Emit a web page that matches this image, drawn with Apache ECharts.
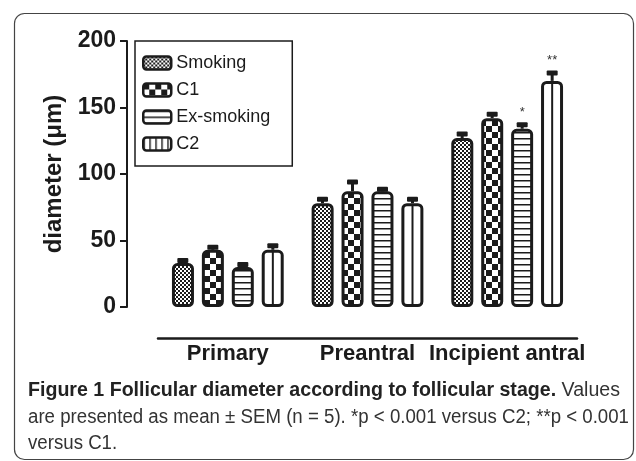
<!DOCTYPE html>
<html>
<head>
<meta charset="utf-8">
<script src="https://cdn.jsdelivr.net/npm/echarts@6/dist/echarts.min.js"></script>
<style>
  html, body { margin: 0; padding: 0; background: #fff; }
  #chart { width: 636px; height: 461px; }
</style>
</head>
<body>
<div id="chart"></div>
<script>
// values (diameter in µm)
const categories = ['Primary', 'Preantral', 'Incipient antral'];
const seriesNames = ['Smoking', 'C1', 'Ex-smoking', 'C2'];
const smoking = [33, 78, 127];
const c1 = [43, 87, 142];
const exSmoking = [30, 87, 134];
const c2 = [43, 78, 170];
const smokingSem = [2, 3, 3];
const c1Sem = [2, 7, 3];
const exSmokingSem = [2, 1.5, 3];
const c2Sem = [3, 3, 6];
const yTicks = [0, 50, 100, 150, 200];
// significance marks: [series index, category index, text]
const starMarks = [[2, 2, '*'], [3, 2, '**']];

const captionBold = 'Figure 1 Follicular diameter according to follicular stage.';
const captionLines = [
  ' Values',
  'are presented as mean ± SEM (n = 5). *p < 0.001 versus C2; **p < 0.001',
  'versus C1.'
];

const ink = '#1b1b1b';
const sans = 'Liberation Sans';

function makePattern(w, h, draw) {
  const c = document.createElement('canvas');
  c.width = w;
  c.height = h;
  const ctx = c.getContext('2d');
  ctx.fillStyle = '#fff';
  ctx.fillRect(0, 0, w, h);
  ctx.fillStyle = ink;
  draw(ctx);
  return { image: c, repeat: 'repeat' };
}

const fineChecker = makePattern(4, 4, (ctx) => {
  ctx.fillRect(0, 0, 2, 2);
  ctx.fillRect(2, 2, 2, 2);
});
const coarseChecker = makePattern(12, 12, (ctx) => {
  ctx.fillRect(0, 0, 6, 6);
  ctx.fillRect(6, 6, 6, 6);
});
const stripes = makePattern(6, 6, (ctx) => {
  ctx.fillRect(0, 0, 6, 1.5);
});
const columns = makePattern(6, 6, (ctx) => {
  ctx.fillRect(0, 0, 1.5, 6);
});
const plain = '#fff';

const fills = [fineChecker, coarseChecker, stripes, plain];
const legendFills = [fineChecker, coarseChecker, stripes, columns];
const allValues = [smoking, c1, exSmoking, c2];
const allSem = [smokingSem, c1Sem, exSmokingSem, c2Sem];

const errorData = [];
allValues.forEach((vals, s) => {
  vals.forEach((v, i) => errorData.push([i, s, v, allSem[s][i]]));
});

function markFor(s, i) {
  const m = starMarks.find((d) => d[0] === s && d[1] === i);
  return m ? m[2] : '';
}

const pitch = 30;

function renderError(params, api) {
  const cat = api.value(0);
  const s = api.value(1);
  const val = api.value(2);
  const err = api.value(3);
  const base = api.coord([cat, val]);
  const top = api.coord([cat, val + err]);
  const zero = api.coord([cat, 0]);
  const x = base[0] + (s - 1.5) * pitch;
  const children = [
    { type: 'line', shape: { x1: x, y1: base[1], x2: x, y2: top[1] }, style: { stroke: ink, lineWidth: 3 } },
    { type: 'rect', shape: { x: x - 5.5, y: top[1] - 2.5, width: 11, height: 5, r: 1 }, style: { fill: ink } }
  ];
  if (s === 3) {
    children.push({ type: 'line', shape: { x1: x, y1: zero[1] - 1, x2: x, y2: base[1] + 1 }, style: { stroke: ink, lineWidth: 2 } });
  }
  const mark = markFor(s, cat);
  if (mark) {
    children.push({
      type: 'text',
      style: { x: x, y: top[1] - 6, text: mark, fill: '#333', fontSize: 13, fontFamily: sans, align: 'center', verticalAlign: 'bottom' }
    });
  }
  return { type: 'group', children };
}

// caption font is a condensed face; squeeze Liberation Sans to the same line widths
function textWidth(text, font) {
  const ctx = document.createElement('canvas').getContext('2d');
  ctx.font = font;
  return ctx.measureText(text).width;
}

const capSize = 20;
const line1Width = textWidth(captionBold, `bold ${capSize}px ${sans}`) + textWidth(captionLines[0], `${capSize}px ${sans}`);
const line2Width = textWidth(captionLines[1], `${capSize}px ${sans}`);
const squeeze1 = 592 / line1Width;
const squeeze2 = 601 / line2Width;

const chart = echarts.init(document.getElementById('chart'));

chart.setOption({
  animation: false,
  grid: { left: 158, right: 59, top: 41, bottom: 154 },
  legend: {
    data: seriesNames.map((name, s) => ({ name, itemStyle: { color: legendFills[s] } })),
    orient: 'vertical',
    left: 135,
    top: 41,
    padding: [13, 22, 13, 7],
    borderColor: ink,
    borderWidth: 1.5,
    itemWidth: 28,
    itemHeight: 13,
    itemGap: 9,
    icon: 'roundRect',
    itemStyle: { borderColor: ink, borderWidth: 2.5 },
    textStyle: { color: ink, fontSize: 18, lineHeight: 18, fontFamily: sans }
  },
  xAxis: {
    type: 'category',
    data: categories,
    offset: 31,
    axisLine: { onZero: false, lineStyle: { color: ink, width: 2.5 } },
    axisTick: { show: false },
    axisLabel: { interval: 0, color: ink, fontSize: 22, fontWeight: 'bold', fontFamily: sans, margin: 5 }
  },
  yAxis: {
    type: 'value',
    min: yTicks[0],
    max: yTicks[yTicks.length - 1],
    interval: yTicks[1] - yTicks[0],
    offset: 31,
    name: 'diameter (μm)',
    nameLocation: 'middle',
    nameGap: 59,
    nameTextStyle: { color: ink, fontSize: 24, fontWeight: 'bold', fontFamily: sans },
    axisLine: { show: true, lineStyle: { color: ink, width: 2 } },
    axisTick: { show: true, length: 7, lineStyle: { color: ink, width: 2 } },
    axisLabel: { color: ink, fontSize: 23, fontWeight: 'bold', fontFamily: sans, margin: 11 },
    splitLine: { show: false }
  },
  series: [
    ...seriesNames.map((name, s) => ({
      name,
      type: 'bar',
      data: allValues[s],
      barWidth: 22,
      barGap: '36%',
      itemStyle: { color: fills[s], borderColor: ink, borderWidth: 3, borderRadius: 4 }
    })),
    {
      type: 'custom',
      name: 'sem',
      data: errorData,
      encode: { x: 0, y: 2 },
      renderItem: renderError,
      z: 5,
      silent: true
    }
  ],
  graphic: [
    {
      type: 'rect',
      silent: true,
      z: -1,
      shape: { x: 14.5, y: 13.5, width: 619, height: 446, r: 10 },
      style: { fill: 'none', stroke: '#444', lineWidth: 1.2 }
    },
    {
      type: 'text',
      x: 28,
      y: 390,
      scaleX: squeeze1,
      style: {
        text: `{b|${captionBold}}{r|${captionLines[0]}}`,
        verticalAlign: 'middle',
        rich: {
          b: { fontFamily: sans, fontSize: capSize, fontWeight: 'bold', fill: '#222' },
          r: { fontFamily: sans, fontSize: capSize, fill: '#333' }
        }
      }
    },
    {
      type: 'text',
      x: 28,
      y: 417,
      scaleX: squeeze2,
      style: { text: captionLines[1], verticalAlign: 'middle', fontFamily: sans, fontSize: capSize, fill: '#333' }
    },
    {
      type: 'text',
      x: 28,
      y: 443,
      scaleX: squeeze2,
      style: { text: captionLines[2], verticalAlign: 'middle', fontFamily: sans, fontSize: capSize, fill: '#333' }
    }
  ]
});
</script>
</body>
</html>
